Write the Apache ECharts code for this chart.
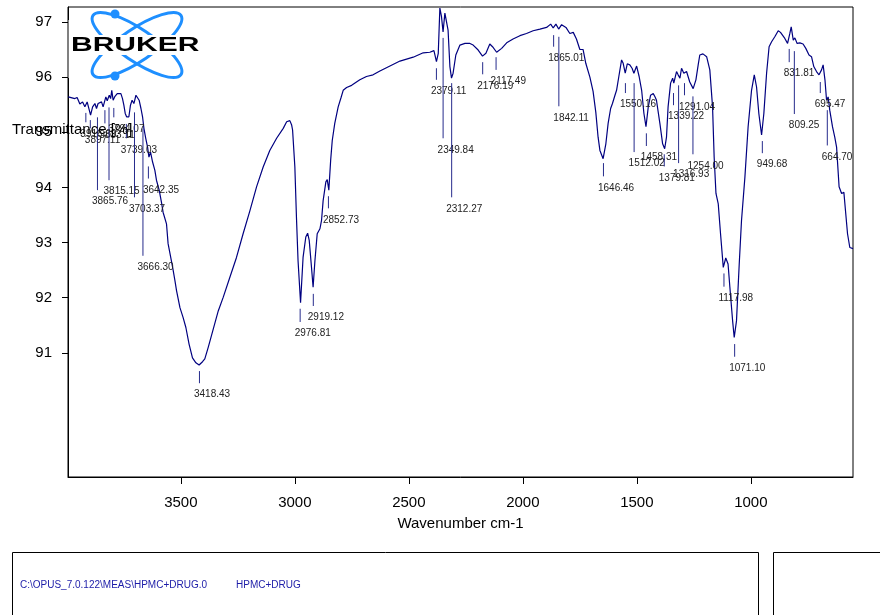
<!DOCTYPE html>
<html>
<head>
<meta charset="utf-8">
<script src="https://cdn.jsdelivr.net/npm/echarts@6/dist/echarts.min.js"></script>
<style>
html,body{margin:0;padding:0;background:#fff;}
#chart{width:880px;height:615px;}
</style>
</head>
<body>
<div id="chart"></div>
<script>
// Spectrum: wavenumber (cm-1) and transmittance (%)
var wn = [3994,3965,3955,3943,3931,3921,3911,3905,3896,3887,
3877,3870,3863,3855,3848,3841,3829,3823,3814,3808,
3803,3797,3789,3779,3771,3763,3756,3750,3744,3738,
3728,3721,3714,3706,3697,3692,3683,3675,3668,3662,
3654,3646,3640,3633,3624,3614,3607,3595,3585,3578,
3570,3563,3556,3548,3536,3526,3519,3504,3490,3478,
3464,3449,3434,3420,3405,3395,3380,3358,3336,3314,
3285,3256,3227,3197,3168,3139,3110,3080,3051,3036,
3022,3014,3010,3000,2993,2986,2975,2964,2952,2944,
2937,2927,2920,2912,2902,2890,2883,2876,2864,2858,
2851,2843,2836,2825,2810,2798,2788,2773,2751,2715,
2686,2657,2627,2583,2539,2481,2437,2408,2390,2379,
2371,2364,2357,2350,2342,2335,2328,2320,2313,2306,
2294,2276,2254,2232,2218,2196,2177,2162,2145,2133,
2115,2093,2071,2043,2013,1984,1955,1925,1896,1878,
1867,1855,1843,1830,1811,1794,1779,1765,1750,1736,
1724,1706,1692,1680,1670,1662,1648,1636,1626,1615,
1607,1596,1589,1579,1567,1560,1551,1542,1531,1521,
1513,1501,1490,1479,1469,1460,1450,1440,1428,1420,
1414,1407,1399,1387,1378,1370,1363,1352,1343,1338,
1326,1319,1311,1304,1294,1282,1268,1253,1241,1231,
1224,1210,1194,1180,1168,1161,1153,1143,1133,1121,
1110,1100,1092,1080,1073,1063,1051,1041,1026,1012,
997,985,975,965,953,943,931,920,909,895,
880,870,851,839,829,823,814,807,797,785,
771,759,745,734,724,712,701,690,683,675,
668,661,654,642,632,624,613,602,592,585,
576,566,552];
var tr = [95.64,95.61,95.63,95.51,95.55,95.46,95.55,95.52,95.31,95.46,
95.52,95.43,95.52,95.49,95.55,95.46,95.64,95.57,95.67,95.61,
95.76,95.58,95.65,95.70,95.67,95.70,95.61,95.49,95.34,95.28,
95.28,95.49,95.58,95.52,95.67,95.70,95.58,95.43,95.28,95.07,
94.89,94.73,94.55,94.64,94.46,94.31,94.13,93.95,93.73,93.55,
93.58,93.34,92.98,93.01,92.55,92.31,92.13,91.82,91.64,91.46,
91.16,90.91,90.82,90.78,90.84,90.89,91.10,91.43,91.76,92.01,
92.37,92.73,93.16,93.58,94.01,94.37,94.67,94.89,95.07,95.19,
95.21,95.13,95.04,94.37,93.46,92.67,91.91,92.73,93.10,93.17,
93.04,92.55,92.19,92.67,93.16,93.25,93.40,93.76,94.10,94.14,
93.95,94.49,94.85,95.16,95.46,95.62,95.76,95.81,95.85,95.95,
96.01,96.04,96.11,96.20,96.29,96.36,96.44,96.45,96.48,96.28,
96.43,97.25,97.10,96.82,97.16,97.16,96.85,96.19,95.98,96.07,
96.40,96.58,96.61,96.61,96.58,96.49,96.38,96.43,96.60,96.55,
96.45,96.52,96.62,96.69,96.75,96.79,96.84,96.87,96.90,96.96,
96.89,96.96,96.87,96.95,96.90,96.79,96.81,96.69,96.50,96.50,
96.25,96.00,95.74,95.36,94.91,94.67,94.52,94.79,95.16,95.43,
95.52,95.67,95.76,96.01,96.31,96.25,96.07,96.24,96.22,96.16,
96.07,96.20,96.01,95.76,95.34,95.10,95.46,95.67,95.70,95.64,
95.58,95.58,95.16,94.79,94.70,94.91,95.46,95.89,95.98,95.89,
96.10,96.04,95.98,96.16,96.07,96.10,95.91,95.79,95.95,96.22,
96.40,96.42,96.37,96.13,95.46,94.55,93.89,93.70,93.16,92.55,
92.72,92.61,92.19,91.58,91.28,91.58,92.61,93.40,94.19,95.10,
95.76,96.04,95.82,95.34,94.95,95.34,96.07,96.55,96.64,96.73,
96.84,96.81,96.70,96.61,96.79,96.91,96.67,96.71,96.61,96.62,
96.60,96.52,96.40,96.37,96.19,96.10,96.04,96.13,96.22,95.95,
95.58,95.64,95.40,95.10,94.91,94.73,94.01,93.89,93.91,93.58,
93.16,92.91,92.89];

// Peak picks: wavenumber, marker top and bottom (transmittance units)
var peakWn     = [3916.69,3897.11,3865.76,3833.11,3815.15,3794.07,3739.03,3703.37,3666.30,3642.35,
                  3418.43,2976.81,2919.12,2852.73,2379.11,2349.84,2312.27,2176.19,2117.49,1865.01,
                  1842.11,1646.46,1550.16,1512.02,1458.31,1379.81,1339.22,1316.93,1291.04,1254.00,
                  1117.98,1071.10,949.68,831.81,809.25,695.47,664.70];
var peakTop    = [95.35,95.22,95.27,95.40,95.45,95.44,95.15,95.36,95.07,94.38,
                  90.67,91.80,92.07,93.84,96.16,96.71,95.89,96.27,96.36,96.76,
                  96.73,94.44,95.89,95.89,94.98,94.60,95.71,95.85,95.89,95.65,
                  92.44,91.16,94.84,96.51,96.47,95.91,95.40];
var peakBottom = [95.18,95.07,93.95,95.16,94.13,95.27,94.89,93.82,92.76,94.16,
                  90.45,91.56,91.85,93.62,95.95,94.89,93.82,96.05,96.13,96.55,
                  95.47,94.20,95.71,94.64,94.75,94.38,95.49,94.44,95.67,94.60,
                  92.20,90.93,94.62,96.27,95.33,95.71,94.76];

var xTicks = [1000,1500,2000,2500,3000,3500];
var yTicks = [91,92,93,94,95,96,97];

var FONT = '"Liberation Sans", Arial, Helvetica, sans-serif';
var spectrum = wn.map(function(w,i){ return [w, tr[i]]; });
var peaks = peakWn.map(function(w,i){ return [w, peakTop[i], peakBottom[i]]; });
var plain = function(v){ return String(v); };

var chart = echarts.init(document.getElementById('chart'), null, {renderer:'canvas'});
chart.setOption({
  animation: false,
  backgroundColor: '#fff',
  grid: {left:68, right:27, top:7, bottom:138, show:true, borderColor:'#000', borderWidth:1, backgroundColor:'rgba(0,0,0,0)'},
  xAxis: {
    type:'value', inverse:true, min:552, max:3995,
    axisLine:{show:true, onZero:false, lineStyle:{color:'#000', width:1}},
    axisTick:{show:true, length:7, customValues:xTicks, lineStyle:{color:'#000'}},
    axisLabel:{customValues:xTicks, formatter:plain, color:'#000', fontSize:15, fontFamily:FONT, margin:18},
    splitLine:{show:false},
    name:'Wavenumber cm-1', nameLocation:'middle', nameGap:39,
    nameTextStyle:{color:'#000', fontSize:15, fontFamily:FONT}
  },
  yAxis: {
    type:'value', min:88.75, max:97.27,
    axisLine:{show:true, onZero:false, lineStyle:{color:'#000', width:1}},
    axisTick:{show:true, length:6, customValues:yTicks, lineStyle:{color:'#000'}},
    axisLabel:{customValues:yTicks, formatter:plain, color:'#000', fontSize:15, fontFamily:FONT, margin:16},
    splitLine:{show:false}
  },
  series: [
    {
      type:'line', data:spectrum, symbol:'none', showSymbol:false,
      lineStyle:{color:'#000080', width:1.2}, z:3, silent:true
    },
    {
      type:'custom', data:peaks, z:4, silent:true, clip:false,
      renderItem: function(params, api){
        var w = api.value(0);
        var p1 = api.coord([w, api.value(1)]);
        var p2 = api.coord([w, api.value(2)]);
        return {type:'group', children:[
          {type:'line', shape:{x1:p1[0], y1:p1[1], x2:p2[0], y2:p2[1]},
           style:{stroke:'#262b8c', lineWidth:1}},
          {type:'text', x:p2[0]-5.5, y:p2[1]+11.5,
           style:{text: peakWn[params.dataIndex].toFixed(2), fill:'#222', font:'10px ' + FONT,
                  align:'left', verticalAlign:'middle'}}
        ]};
      }
    }
  ],
  graphic: [
    {type:'rect', z:50, shape:{x:68.5, y:20, width:135, height:58}, style:{fill:'#fff'}},
    {type:'ellipse', z:51, x:137, y:45, rotation: 34*Math.PI/180, shape:{cx:0, cy:0, rx:53, ry:16},
     style:{fill:'none', stroke:'#1e8fff', lineWidth:3}},
    {type:'ellipse', z:51, x:137, y:45, rotation: -34*Math.PI/180, shape:{cx:0, cy:0, rx:53, ry:16},
     style:{fill:'none', stroke:'#1e8fff', lineWidth:3}},
    {type:'circle', z:52, shape:{cx:115, cy:14, r:4.5}, style:{fill:'#1e8fff'}},
    {type:'circle', z:52, shape:{cx:115, cy:76, r:4.5}, style:{fill:'#1e8fff'}},
    {type:'rect', z:53, shape:{x:69, y:35, width:134, height:20}, style:{fill:'#fff'}},
    {type:'text', z:54, x:71, y:45, scaleX:1.43,
     style:{text:'BRUKER', fill:'#000', font:'bold 21px ' + FONT, align:'left', verticalAlign:'middle'}},
    {type:'text', z:100, x:12, y:130,
     style:{text:'Transmittance [%]', fill:'#000', font:'15px ' + FONT, align:'left', verticalAlign:'middle'}},
    {type:'rect', z:10, shape:{x:12.5, y:552.5, width:746, height:80}, style:{fill:'none', stroke:'#000', lineWidth:1}},
    {type:'rect', z:10, shape:{x:773.5, y:552.5, width:150, height:80}, style:{fill:'none', stroke:'#000', lineWidth:1}},
    {type:'text', z:11, x:20, y:585,
     style:{text:'C:\\OPUS_7.0.122\\MEAS\\HPMC+DRUG.0', fill:'#1c1ca8', font:'10px ' + FONT, align:'left', verticalAlign:'middle'}},
    {type:'text', z:11, x:236, y:585,
     style:{text:'HPMC+DRUG', fill:'#1c1ca8', font:'10px ' + FONT, align:'left', verticalAlign:'middle'}}
  ]
});
</script>
</body>
</html>
